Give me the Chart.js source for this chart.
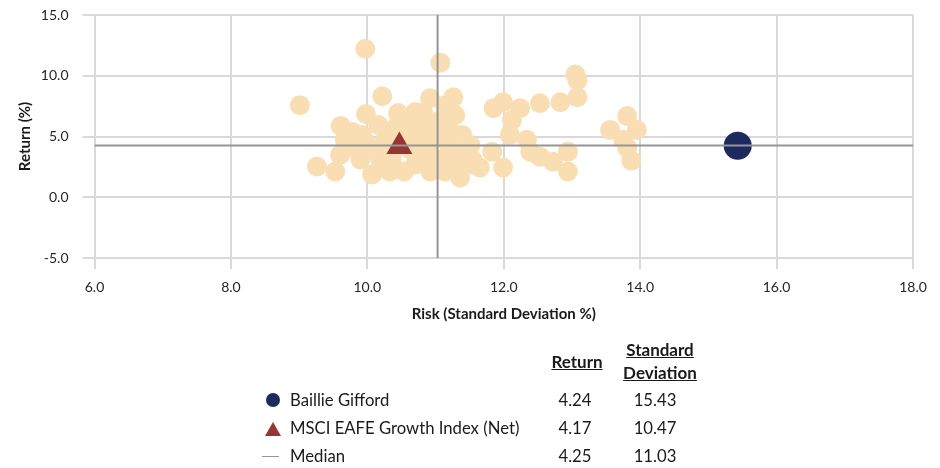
<!DOCTYPE html>
<html>
<head>
<meta charset="utf-8">
<script src="https://cdn.jsdelivr.net/npm/chart.js@4.4.1/dist/chart.umd.min.js"></script>
<style>
  html, body { margin: 0; padding: 0; background: #ffffff; }
  #wrap { position: relative; width: 940px; height: 468px; font-family: Lato, "Liberation Sans", sans-serif; color: #1a1a1a; }
  #c { position: absolute; left: 0; top: 0; }
  .t { position: absolute; font-size: 16.7px; line-height: 20px; white-space: nowrap; }
  .h { font-weight: bold; text-decoration: underline; text-align: center; font-size: 17px; }
  .num { text-align: center; width: 70px; }
  .mk { position: absolute; }
</style>
</head>
<body>
<div id="wrap">
  <canvas id="c" width="940" height="468"></canvas>
  <div class="t h" style="left:541px; top:352px; width:72px;">Return</div>
  <div class="t h" style="left:613px; top:338px; width:94px; line-height:23px;">Standard<br>Deviation</div>

  <div class="mk" style="left:266px; top:393px; width:14px; height:14px; border-radius:7px; background:#1C2A5D;"></div>
  <div class="t" style="left:290px; top:390px;">Baillie Gifford</div>
  <div class="t num" style="left:540px; top:390px;">4.24</div>
  <div class="t num" style="left:620px; top:390px;">15.43</div>

  <div class="mk" style="left:265px; top:422px; width:0; height:0; border-left:8.5px solid transparent; border-right:8.5px solid transparent; border-bottom:14px solid #943634;"></div>
  <div class="t" style="left:290px; top:418px;">MSCI EAFE Growth Index (Net)</div>
  <div class="t num" style="left:540px; top:418px;">4.17</div>
  <div class="t num" style="left:620px; top:418px;">10.47</div>

  <div class="mk" style="left:262px; top:456px; width:17px; height:1px; background:#959595;"></div>
  <div class="t" style="left:290px; top:446px;">Median</div>
  <div class="t num" style="left:540px; top:446px;">4.25</div>
  <div class="t num" style="left:620px; top:446px;">11.03</div>
</div>
<script>
// Peer universe: risk (std dev %) and return (%)
const peerRisk = [
  9.01, 9.26, 9.53, 9.61, 9.97, 9.98, 10.22, 10.45, 10.70, 10.92,
  11.07, 11.26, 11.18, 10.82, 10.63,
  9.60, 9.67, 9.78, 9.85, 9.92, 10.07, 10.11, 10.16, 10.26, 10.33,
  10.36, 10.54, 10.55, 10.66, 10.74, 10.77, 10.89, 10.96, 11.04, 11.14,
  11.14, 11.21, 11.31, 11.36, 11.39, 11.51, 11.54, 11.65, 11.29,
  11.83, 11.85, 11.99, 12.24, 12.12, 12.09, 12.34, 12.39, 12.53, 12.53,
  12.72, 12.83, 12.94, 12.94, 11.99, 13.05, 13.08, 13.08, 13.56, 13.81,
  13.95, 13.75, 13.81, 13.87,
  9.75, 9.90, 9.97, 10.19, 10.41, 10.63, 10.70, 10.85, 10.92, 11.00,
  11.07, 11.21, 11.29, 11.44, 11.48, 10.82, 11.14
];
const peerReturn = [
  7.58, 2.53, 2.12, 5.87, 12.22, 6.85, 8.31, 6.93, 7.01, 8.15,
  11.08, 8.23, 5.79, 7.00, 6.60,
  3.50, 4.73, 5.38, 3.91, 5.13, 1.87, 3.91, 5.95, 4.73, 2.12,
  3.26, 2.12, 4.73, 5.70, 3.50, 5.13, 4.32, 5.95, 3.10, 2.12,
  4.73, 3.91, 2.85, 1.63, 5.13, 4.32, 3.10, 2.45, 6.76,
  3.75, 7.33, 7.82, 7.33, 6.36, 5.13, 4.73, 3.75, 3.34, 7.74,
  2.93, 7.82, 3.75, 2.12, 2.45, 10.10, 9.62, 8.23, 5.54, 6.68,
  5.54, 4.73, 4.07, 3.02,
  4.32, 3.10, 4.56, 3.10, 5.70, 3.91, 2.69, 3.10, 2.12, 5.13,
  6.36, 5.54, 3.50, 3.91, 2.69, 6.20, 7.58
];
const managerName = "Baillie Gifford";
const managerRisk = [15.43];
const managerReturn = [4.24];
const indexName = "MSCI EAFE Growth Index (Net)";
const indexRisk = [10.47];
const indexReturn = [4.17];
const medianRisk = 11.03;
const medianReturn = 4.25;
const xTicks = [6, 8, 10, 12, 14, 16, 18];
const yTicks = [-5, 0, 5, 10, 15];

const toPts = (xs, ys) => xs.map((x, i) => ({ x: x, y: ys[i] }));
const xMin = xTicks[0], xMax = xTicks[xTicks.length - 1];
const yMin = yTicks[0], yMax = yTicks[yTicks.length - 1];

new Chart(document.getElementById('c'), {
  type: 'scatter',
  data: {
    datasets: [
      { label: 'Median Return', data: [{ x: xMin, y: medianReturn }, { x: xMax, y: medianReturn }],
        showLine: true, borderColor: '#959595', borderWidth: 2, pointRadius: 0, order: 0 },
      { label: 'Median Risk', data: [{ x: medianRisk, y: yMin }, { x: medianRisk, y: yMax }],
        showLine: true, borderColor: '#959595', borderWidth: 2, pointRadius: 0, order: 0 },
      { label: managerName, data: toPts(managerRisk, managerReturn),
        backgroundColor: '#1C2A5D', borderWidth: 0, pointRadius: 14, order: 1 },
      { label: indexName, data: toPts(indexRisk, indexReturn), pointStyle: 'triangle',
        backgroundColor: '#943634', borderWidth: 0, pointRadius: 15, order: 2 },
      { label: 'Peers', data: toPts(peerRisk, peerReturn),
        backgroundColor: '#F9DEB4', borderWidth: 0, pointRadius: 10, order: 3 }
    ]
  },
  options: {
    responsive: false,
    animation: false,
    events: [],
    layout: { padding: { top: 13, right: 27, bottom: 140, left: 0 } },
    plugins: { legend: { display: false }, tooltip: { enabled: false } },
    scales: {
      x: {
        type: 'linear', min: xMin, max: xMax,
        afterBuildTicks: s => { s.ticks = xTicks.map(v => ({ value: v })); },
        afterFit: s => { s.height = 70; },
        grid: { color: '#D9D9D9', lineWidth: 2, tickLength: 11, drawTicks: true },
        border: { color: '#D9D9D9', width: 2 },
        ticks: { padding: 10, color: '#262626', font: { family: 'Lato', size: 14 }, callback: v => Number(v).toFixed(1) },
        title: { display: true, text: 'Risk (Standard Deviation %)', color: '#1a1a1a',
          font: { family: 'Lato', size: 15, weight: 'bold' }, padding: { top: 0, bottom: 5 } }
      },
      y: {
        type: 'linear', min: yMin, max: yMax,
        afterBuildTicks: s => { s.ticks = yTicks.map(v => ({ value: v })); },
        afterFit: s => { s.width = 94.5; s.paddingTop = 0; s.paddingBottom = 0; },
        grid: { color: '#D9D9D9', lineWidth: 2, tickLength: 12, drawTicks: true },
        border: { color: '#D9D9D9', width: 2 },
        ticks: { padding: 14, color: '#262626', font: { family: 'Lato', size: 14 }, callback: v => Number(v).toFixed(1) },
        title: { display: true, text: 'Return (%)', color: '#1a1a1a',
          font: { family: 'Lato', size: 15, weight: 'bold' }, padding: { top: 16, bottom: 0 } }
      }
    }
  }
});
</script>
</body>
</html>
